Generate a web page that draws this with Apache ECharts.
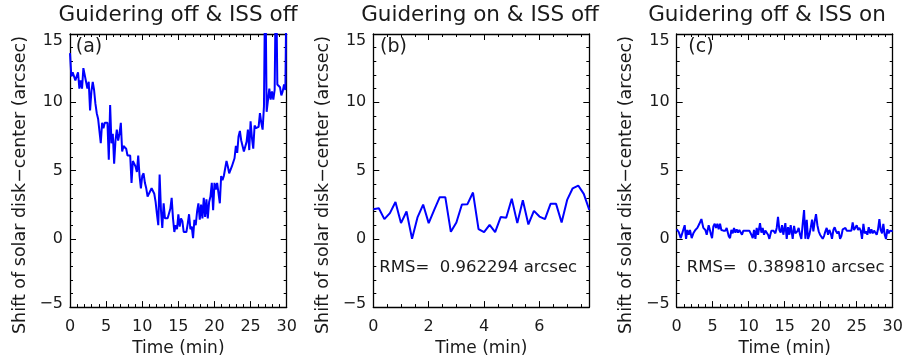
<!DOCTYPE html>
<html><head><meta charset="utf-8">
<script src="https://cdn.jsdelivr.net/npm/echarts@6/dist/echarts.min.js"></script>
<style>html,body{margin:0;padding:0;background:#fff}#c{width:908px;height:362px}</style>
</head><body><div id="c"></div>
<script>
// ---- data ----
const panelTitles = ['Guidering off & ISS off', 'Guidering on & ISS off', 'Guidering off & ISS on'];
const panelTags = ['(a)', '(b)', '(c)'];
const rmsTexts = ['', 'RMS=  0.962294 arcsec', 'RMS=  0.389810 arcsec'];
const yAxisName = 'Shift of solar disk\u2212center (arcsec)';
const xAxisName = 'Time (min)';
const yRange = [-5, 15];
const xRangeA = [0, 30];
const xRangeB = [0, 7.8];
const xRangeC = [0, 30];
const stepB = 0.2; // sampling of panel (b), minutes

// panel (a): guiding off, ISS off (values above 15 are off-scale spikes)
const shiftA = [13.6, 11.9, 12.2, 12.2, 11.6, 11.6, 12.2, 11.0, 11.6, 11.0, 12.5, 12.5, 11.5, 11.0, 11.5, 9.4, 10.8, 11.5, 10.9, 9.9,
  9.2, 8.8, 8.9, 7.0, 8.5, 8.1, 8.5, 8.5, 8.5, 5.8, 9.8, 7.0, 7.7, 5.5, 7.2, 8.0, 7.2, 7.7, 8.5, 6.4,
  6.8, 6.8, 6.6, 6.1, 6.0, 6.1, 4.1, 5.7, 5.5, 5.3, 4.9, 6.1, 4.6, 3.7, 4.6, 4.8, 4.1, 3.7, 3.1, 3.1,
  3.5, 3.7, 3.6, 3.3, 2.7, 1.8, 1.0, 4.7, 2.1, 0.8, 2.6, 1.5, 1.6, 1.5, 1.6, 2.2, 3.0, 1.5, 0.5, 1.0,
  0.7, 1.8, 0.9, 1.5, 1.3, 0.5, 0.5, 0.5, 1.1, 1.8, 0.7, 0.9, 0.05, 1.4, 1.0, 2.0, 2.6, 1.4, 2.5, 1.5,
  3.0, 1.6, 2.9, 1.5, 2.7, 3.1, 4.1, 2.1, 4.1, 3.6, 4.1, 4.1, 2.6, 4.6, 4.3, 4.6, 4.7, 5.7, 5.3, 4.8,
  4.9, 5.3, 5.3, 5.9, 6.8, 6.3, 7.5, 7.9, 7.2, 6.8, 6.4, 6.3, 7.1, 8.0, 6.5, 8.6, 7.4, 6.6, 8.3, 8.1,
  8.2, 8.2, 9.2, 8.5, 8.0, 9.7, 20, 9.3, 9.4, 11.0, 10.2, 10.8, 10.2, 10.9, 20, 11.3, 11.3, 11.1, 10.5, 10.8,
  11.3, 10.9, 20];

// panel (b): guiding on, ISS off
const shiftB = [2.17, 2.24, 1.44, 1.88, 2.7, 1.15, 2.0, 0.0, 1.59, 2.51, 1.15, 2.12, 3.05, 3.05, 0.51, 1.2, 2.51, 2.54, 3.39, 0.71,
  0.49, 1.02, 0.49, 1.59, 1.54, 2.93, 1.15, 2.83, 1.05, 2.05, 1.63, 1.44, 2.56, 2.56, 1.2, 2.85, 3.7, 3.9, 3.29, 2.12];

// panel (c): guiding off, ISS on — times (min) and shifts (arcsec)
const timesC = [0, 0.28, 0.56, 0.83, 1.11, 1.30, 1.48, 1.67, 1.85, 2.08, 2.31, 2.59, 2.87, 3.15, 3.43, 3.70, 3.98, 4.17, 4.44, 4.72,
  4.91, 5.09, 5.28, 5.46, 5.65, 5.83, 6.02, 6.20, 6.48, 6.76, 6.94, 7.22, 7.41, 7.59, 7.78, 7.96, 8.15, 8.33, 8.52, 8.70,
  8.89, 9.07, 9.26, 9.54, 9.81, 10.09, 10.37, 10.56, 10.74, 10.93, 11.11, 11.30, 11.57, 11.76, 11.94, 12.13, 12.31, 12.50, 12.69, 12.87,
  13.15, 13.43, 13.70, 13.89, 14.07, 14.26, 14.44, 14.63, 14.81, 15.09, 15.28, 15.46, 15.65, 15.83, 16.11, 16.30, 16.48, 16.76, 16.94, 17.13,
  17.31, 17.50, 17.69, 17.87, 18.06, 18.24, 18.43, 18.61, 18.80, 18.98, 19.17, 19.35, 19.54, 19.72, 19.91, 20.09, 20.28, 20.46, 20.65, 20.83,
  21.02, 21.20, 21.39, 21.57, 21.76, 21.94, 22.13, 22.31, 22.50, 22.69, 22.87, 23.06, 23.24, 23.43, 23.61, 23.89, 24.07, 24.26, 24.44, 24.63,
  24.81, 25.00, 25.19, 25.37, 25.56, 25.74, 25.93, 26.11, 26.30, 26.48, 26.67, 26.85, 27.04, 27.22, 27.41, 27.59, 27.78, 27.96, 28.15, 28.33,
  28.52, 28.70, 28.89, 29.07, 29.26, 29.44, 29.63, 29.81, 30.00];
const shiftC = [0.7, 0.5, 0.05, 0.0, 1.0, 0.0, 0.65, 0.3, 0.65, 0.05, 0.4, 0.65, 0.8, 1.1, 1.45, 0.8, 0.65, 0.3, 1.0, 0.4,
  0.05, 0.9, 1.1, 0.8, 1.1, 0.7, 1.1, 0.65, 0.6, 0.6, 0.8, 0.2, 0.05, 0.65, 0.4, 0.8, 0.45, 0.7, 0.45, 0.65,
  0.55, 0.3, 0.6, 0.6, 0.6, 0.6, 0.3, 0.05, 0.65, 0.0, 0.8, 0.3, 1.15, 0.45, 0.8, 0.3, 0.6, 0.6, 0.3, 0.0,
  0.6, 0.6, 0.4, 0.8, 1.6, 0.65, 0.45, 1.0, 0.3, 1.15, 0.0, 0.85, 0.3, 1.0, 0.0, 0.95, 0.4, 0.55, 0.8, 0.3,
  0.0, 1.1, 2.1, 0.0, 1.4, 0.0, 0.3, 0.8, 1.4, 0.55, 1.3, 1.8, 1.0, 0.55, 0.3, 0.2, 0.0, 0.2, 0.55, 0.8,
  0.3, 0.65, 0.4, 0.0, 0.65, 0.85, 0.55, 0.4, 0.55, 0.0, 0.2, 0.7, 0.65, 0.8, 0.6, 0.6, 0.65, 0.6, 1.2, 0.65,
  0.55, 1.0, 0.65, 0.8, 0.6, 0.0, 1.1, 0.4, 0.55, 0.3, 0.85, 0.4, 0.7, 0.4, 0.6, 0.55, 0.3, 0.7, 1.45, 0.65,
  0.4, 1.1, 0.3, 0.0, 0.7, 0.4, 0.6, 0.7, 0.55];

// ---- build ----
function pairsUniform(vals, t0, t1) {
  const n = vals.length;
  return vals.map((v, i) => [t0 + (t1 - t0) * i / (n - 1), v]);
}
const dataA = pairsUniform(shiftA, xRangeA[0], xRangeA[1]);
const dataB = shiftB.map((v, i) => [i * stepB, v]);
const dataC = shiftC.map((v, i) => [timesC[i], v]);

const FONT = 'DejaVu Sans';
const TXT = '#1a1a1a';
const grids = [
  { left: 70, top: 34, width: 216.7, height: 273.5 },
  { left: 373.3, top: 34, width: 216, height: 273.5 },
  { left: 676.7, top: 34, width: 216, height: 273.5 }
];
const xSpecs = [
  { range: xRangeA, interval: 5, minor: 5 },
  { range: xRangeB, interval: 2, minor: 4 },
  { range: xRangeC, interval: 5, minor: 5 }
];
const lineStyleAxis = { color: '#000', width: 1.3 };
const labelRich = {
  n: { fontFamily: FONT, fontSize: 16, color: TXT },
  t: { fontFamily: FONT, fontSize: 16, color: TXT, padding: [13, 0, 0, 0] },
  b: { fontFamily: FONT, fontSize: 16, color: TXT, padding: [0, 0, 7, 0] }
};

const xAxes = [], yAxes = [];
grids.forEach((g, i) => {
  const s = xSpecs[i];
  ['bottom', 'top'].forEach(pos => {
    const main = pos === 'bottom';
    xAxes.push({
      type: 'value', gridIndex: i, position: pos,
      min: s.range[0], max: s.range[1], interval: s.interval,
      axisLine: { show: true, onZero: false, lineStyle: lineStyleAxis },
      axisTick: { show: true, inside: true, length: 6, lineStyle: { color: '#000', width: 1 } },
      minorTick: { show: true, splitNumber: s.minor, length: 3, lineStyle: { color: '#000', width: 1 } },
      splitLine: { show: false },
      axisLabel: { show: main, fontFamily: FONT, fontSize: 16, color: TXT, margin: 12, showMaxLabel: i !== 1 },
      name: main ? xAxisName : '', nameLocation: 'middle', nameGap: 32,
      nameTextStyle: { fontFamily: FONT, fontSize: 17, color: TXT }
    });
  });
  ['left', 'right'].forEach(pos => {
    const main = pos === 'left';
    yAxes.push({
      type: 'value', gridIndex: i, position: pos,
      min: yRange[0], max: yRange[1], interval: 5,
      axisLine: { show: true, onZero: false, lineStyle: lineStyleAxis },
      axisTick: { show: true, inside: true, length: 6, lineStyle: { color: '#000', width: 1 } },
      minorTick: { show: true, splitNumber: 5, length: 3, lineStyle: { color: '#000', width: 1 } },
      splitLine: { show: false },
      axisLabel: { show: main, fontFamily: FONT, fontSize: 16, color: TXT, margin: 7, rich: labelRich,
        formatter: v => {
          const s = String(v).replace('-', '\u2212');
          const k = v === yRange[1] ? 't' : (v === yRange[0] ? 'b' : 'n');
          return '{' + k + '|' + s + '}';
        } }
    });
  });
});

const allData = [dataA, dataB, dataC];
const series = allData.map((d, i) => ({
  type: 'line', xAxisIndex: i * 2, yAxisIndex: i * 2, data: d,
  showSymbol: false, symbol: 'none', clip: true, animation: false,
  lineStyle: { color: '#0000ff', width: 2 }
}));

const titleX = [178, 480, 767];
const tagX = [89, 393.5, 701];
const graphics = [];
panelTitles.forEach((t, i) => {
  graphics.push({ type: 'text', x: titleX[i], y: 15, style: { text: t, font: '21.5px "' + FONT + '"', fill: TXT, textAlign: 'center', textVerticalAlign: 'middle' } });
  graphics.push({ type: 'text', x: tagX[i], y: 47, style: { text: panelTags[i], font: '19px "' + FONT + '"', fill: TXT, textAlign: 'center', textVerticalAlign: 'middle' } });
  graphics.push({ type: 'text', x: grids[i].left - 50, y: 185, rotation: Math.PI / 2,
    style: { text: yAxisName, font: '17.5px "' + FONT + '"', fill: TXT, textAlign: 'center', textVerticalAlign: 'middle' } });
  if (rmsTexts[i]) {
    graphics.push({ type: 'text', x: grids[i].left + 6 + (i === 2 ? 4 : 0), y: 268, style: { text: rmsTexts[i], font: '16.5px "' + FONT + '"', fill: TXT, textAlign: 'left', textVerticalAlign: 'middle' } });
  }
});

const chart = echarts.init(document.getElementById('c'), null, { renderer: 'canvas' });
chart.setOption({
  animation: false,
  backgroundColor: '#fff',
  grid: grids,
  xAxis: xAxes,
  yAxis: yAxes,
  series: series,
  graphic: graphics
});
</script></body></html>
